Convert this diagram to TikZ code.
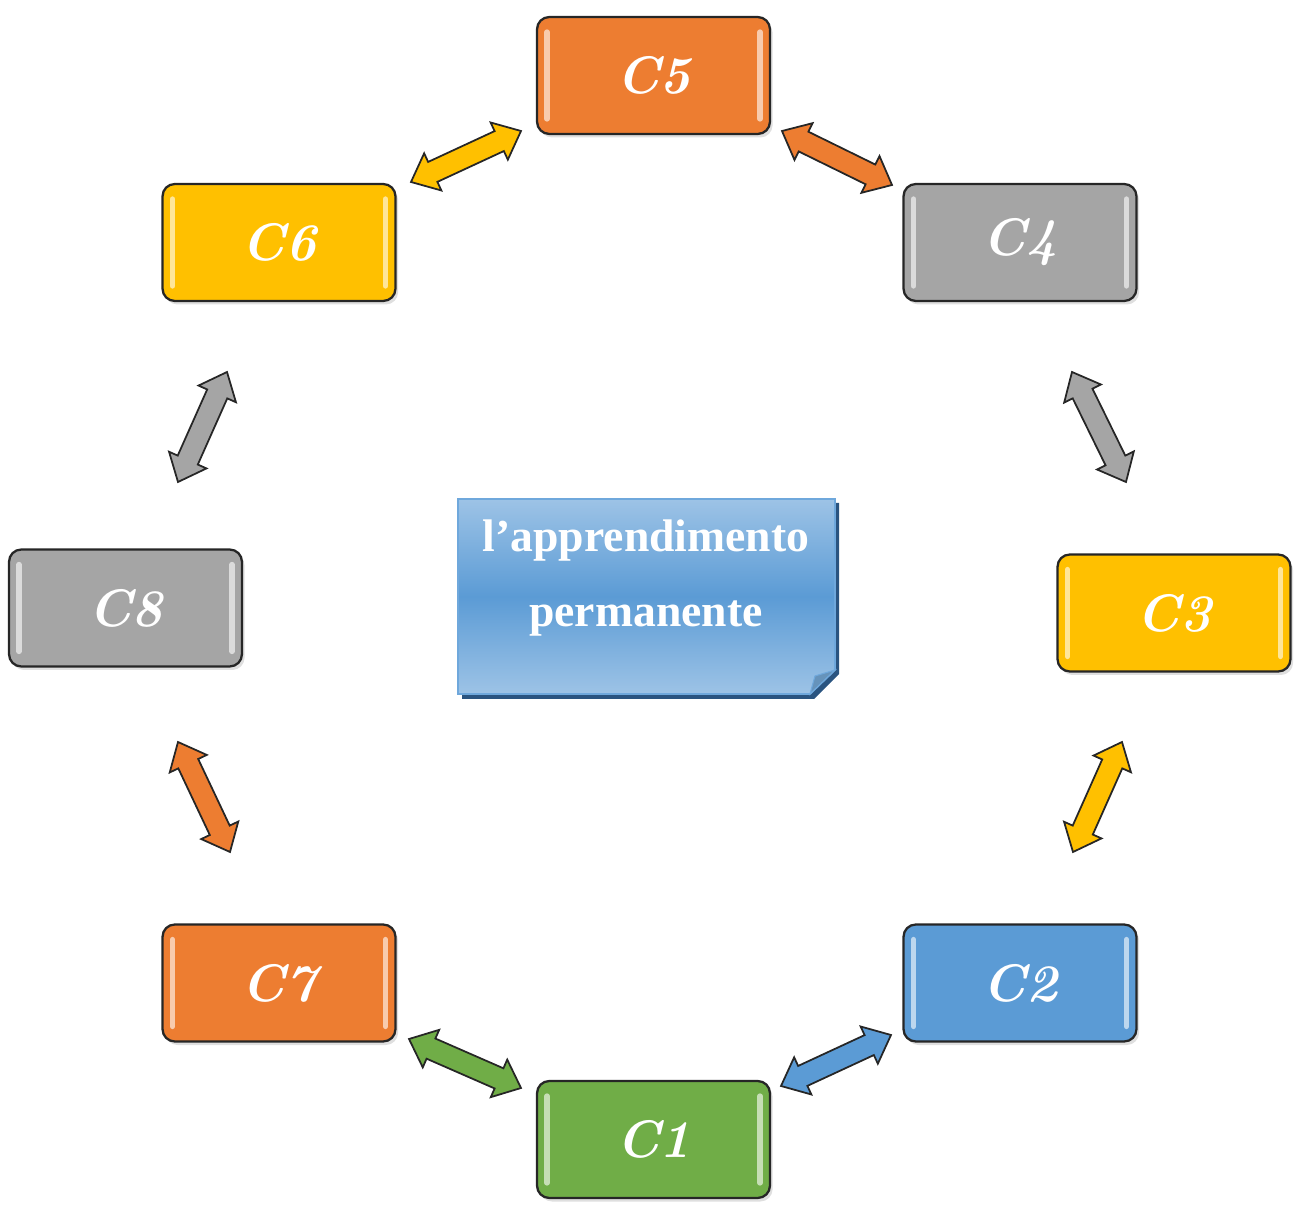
\documentclass[tikz,border=0pt]{standalone}
\usepackage{fontspec}
\usetikzlibrary{calc,shadows}

\newfontfamily\notefont{Liberation Serif}

\definecolor{orangeC}{HTML}{ED7D31}
\definecolor{yellowC}{HTML}{FFC000}
\definecolor{grayC}{HTML}{A5A5A5}
\definecolor{blueC}{HTML}{5B9BD5}
\definecolor{greenC}{HTML}{70AD47}
\definecolor{noteTop}{HTML}{9DC3E6}
\definecolor{noteEdge}{HTML}{6FA8DC}
\definecolor{noteDark}{HTML}{2A5480}

\newcommand*{\headlen}{0.48cm}
\newcommand*{\headw}{0.41cm}
\newcommand*{\shaftw}{0.22cm}

% double block arrow from #1 to #2, filled with #3
\newcommand*{\linkarrow}[3]{%
  \filldraw[fill=#3, draw=black!85, line width=1pt, line join=miter]
    (#1) -- ($(#1)!\headlen!(#2)!\headw!90:(#2)$)
    -- ($(#1)!\headlen!(#2)!\shaftw!90:(#2)$)
    -- ($(#2)!\headlen!(#1)!\shaftw!-90:(#1)$)
    -- ($(#2)!\headlen!(#1)!\headw!-90:(#1)$)
    -- (#2)
    -- ($(#2)!\headlen!(#1)!\headw!90:(#1)$)
    -- ($(#2)!\headlen!(#1)!\shaftw!90:(#1)$)
    -- ($(#1)!\headlen!(#2)!\shaftw!-90:(#2)$)
    -- ($(#1)!\headlen!(#2)!\headw!-90:(#2)$)
    -- cycle;}

\begin{document}
\begin{tikzpicture}
[
	x=0.02cm, y=-0.02cm,
	cbox/.style={rectangle, rounded corners=7pt, draw=black!85, line width=1.3pt,
		fill=#1, minimum width=4.66cm, minimum height=2.34cm,
		text=white, font=\fontsize{30}{32}\selectfont\bfseries\itshape,
		drop shadow={opacity=0.25, shadow xshift=1.5pt, shadow yshift=-2pt},
		path picture={
			\draw[white!60!#1, line width=3pt, line cap=round]
			  ([xshift=0.2cm,yshift=-0.3cm]path picture bounding box.north west) --
			  ([xshift=0.2cm,yshift=0.3cm]path picture bounding box.south west);
			\draw[white!60!#1, line width=3pt, line cap=round]
			  ([xshift=-0.2cm,yshift=-0.3cm]path picture bounding box.north east) --
			  ([xshift=-0.2cm,yshift=0.3cm]path picture bounding box.south east);
		}},
]
	\useasboundingbox (0,0) rectangle (1303,1212);

	% boxes
	\node[cbox=orangeC] (c5) at (653.5,75.5) {C5};
	\node[cbox=yellowC] (c6) at (279,242.5) {C6};
	\node[cbox=grayC] (c4) at (1020,242.5) {C4};
	\node[cbox=grayC] (c8) at (125.5,608) {C8};
	\node[cbox=yellowC] (c3) at (1174,613) {C3};
	\node[cbox=orangeC] (c7) at (279,983) {C7};
	\node[cbox=blueC] (c2) at (1020,983) {C2};
	\node[cbox=greenC] (c1) at (653.5,1139.5) {C1};

	% centre note
	\fill[noteDark] (462,503) -- (839,503) -- (839,674) -- (814,699) -- (462,699) -- cycle;
	\shade[top color=noteTop, bottom color=noteTop, middle color=blueC, draw=noteEdge, line width=1pt]
	  (458,499) -- (835,499) -- (835,670) -- (810,694) -- (458,694) -- cycle;
	\filldraw[fill=blueC!70!gray, draw=noteEdge, line width=0.6pt]
	  (810,694) -- (815,676) -- (835,670) -- cycle;
	\node[text=white, font=\notefont\bfseries\fontsize{26}{42.5}\selectfont, align=center]
	  (note) at (646,578) {l’apprendimento\\permanente};

	% arrow ends
	\coordinate (e56) at (521,131);
	\coordinate (e65) at (411,182);
	\coordinate (e54) at (782,131);
	\coordinate (e45) at (892,185);
	\coordinate (e43) at (1072,372);
	\coordinate (e34) at (1126,482);
	\coordinate (e32) at (1122,742);
	\coordinate (e23) at (1073,852);
	\coordinate (e21) at (891,1035);
	\coordinate (e12) at (781,1086);
	\coordinate (e17) at (521,1088);
	\coordinate (e71) at (409,1039);
	\coordinate (e78) at (230,852);
	\coordinate (e87) at (178,742);
	\coordinate (e86) at (178,482);
	\coordinate (e68) at (227,372);

	% arrows
	\linkarrow{e56}{e65}{yellowC}
	\linkarrow{e54}{e45}{orangeC}
	\linkarrow{e43}{e34}{grayC}
	\linkarrow{e32}{e23}{yellowC}
	\linkarrow{e21}{e12}{blueC}
	\linkarrow{e17}{e71}{greenC}
	\linkarrow{e78}{e87}{orangeC}
	\linkarrow{e86}{e68}{grayC}

\end{tikzpicture}
\end{document}
